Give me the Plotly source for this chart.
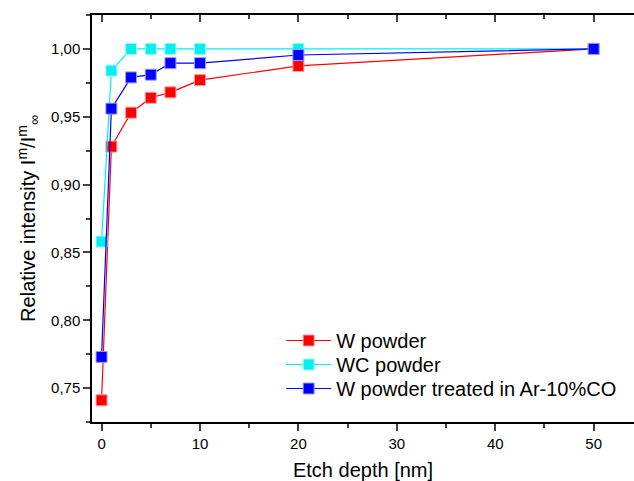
import plotly.graph_objects as go

depth = [0, 1, 3, 5, 7, 10, 20, 50]
w_powder = [0.741, 0.928, 0.953, 0.964, 0.968, 0.977, 0.9875, 1.0]
wc_powder = [0.858, 0.984, 1.0, 1.0, 1.0, 1.0, 1.0, 1.0]
w_treated = [0.773, 0.956, 0.979, 0.981, 0.9895, 0.9895, 0.9955, 1.0]

names = ["W powder", "WC powder", "W powder treated in Ar-10%CO"]
colors = ["#ff0000", "#00f0f0", "#0000ff"]
edge = ["#ff9a9a", "#9afafa", "#9a9aff"]
legend_ids = ["legend", "legend2", "legend3"]
legend_y = [0.2482, 0.1892, 0.1302]

fig = go.Figure()
for ys, n, c, e, lg in zip([w_powder, wc_powder, w_treated], names, colors, edge, legend_ids):
    fig.add_trace(go.Scatter(
        x=depth, y=ys, name=n, mode="lines+markers", legend=lg,
        line=dict(color=c, width=1.2),
        marker=dict(symbol="square", size=11, color=c, line=dict(color=e, width=1)),
        cliponaxis=False,
    ))
fig.add_trace(go.Scatter(x=[], y=[], xaxis="x2", showlegend=False, hoverinfo="skip"))

font = "Liberation Sans, Arial, sans-serif"
legends = {}
for lg, ly in zip(legend_ids, legend_y):
    legends[lg] = dict(x=0.349, y=ly, xanchor="left", yanchor="top",
                       font=dict(size=20, family=font), itemwidth=45,
                       bgcolor="rgba(0,0,0,0)")

fig.update_layout(
    width=634, height=481,
    margin=dict(l=92, r=0, t=15, b=59, autoexpand=False),
    paper_bgcolor="white", plot_bgcolor="white",
    separators=",.",
    font=dict(family=font, size=15, color="black"),
    showlegend=True,
    **legends,
    xaxis=dict(range=[-0.97, 54.1], tick0=0, dtick=10, ticks="outside", ticklen=7,
               tickwidth=1.5, showline=True, linecolor="black", linewidth=1.5,
               showgrid=False, zeroline=False, automargin=False,
               minor=dict(ticks="outside", dtick=5, tick0=0, ticklen=4, tickwidth=1.5, showgrid=False),
               title=dict(text="Etch depth [nm]", font=dict(size=20), standoff=32)),
    xaxis2=dict(overlaying="x", matches="x", side="top", ticks="inside", ticklen=7,
                tickwidth=1.5, tick0=0, dtick=10, showline=True, linecolor="black", linewidth=1.5,
                showticklabels=False, showgrid=False, zeroline=False, automargin=False,
                minor=dict(ticks="inside", dtick=5, tick0=0, ticklen=4, tickwidth=1.5, showgrid=False)),
    yaxis=dict(range=[0.725, 1.025], tick0=0.75, dtick=0.05, tickformat=".2f",
               ticks="outside", ticklen=7, tickwidth=1.5, showline=True,
               linecolor="black", linewidth=1.5, showgrid=False, zeroline=False, automargin=False,
               minor=dict(ticks="outside", dtick=0.025, tick0=0.725, ticklen=4, tickwidth=1.5, showgrid=False),
               title=dict(text="Relative intensity I<sup>m</sup>/I<sup>m</sup><sub>∞</sub>",
                          font=dict(size=20), standoff=10)),
)

fig.write_html(
    "out.html",
    config={"displayModeBar": False},
    post_script="document.body.style.margin='0';document.body.style.overflow='hidden';",
)
